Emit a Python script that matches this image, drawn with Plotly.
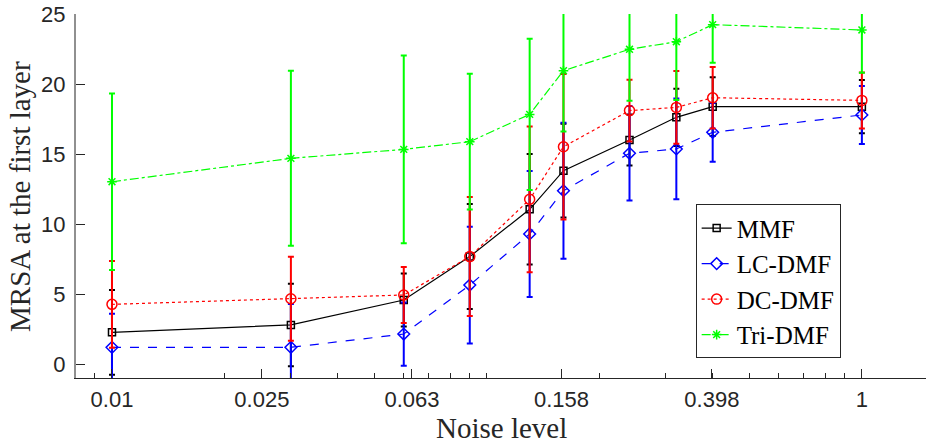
import plotly.graph_objects as go

noise = [0.01, 0.03, 0.06, 0.09, 0.13, 0.16, 0.24, 0.32, 0.40, 1.0]

mmf = [2.26, 2.79, 4.57, 7.67, 11.05, 13.81, 16.0, 17.62, 18.38, 18.38]
mmf_err = [3.03, 2.95, 1.9, 3.75, 3.95, 3.35, 1.83, 2.04, 2.1, 1.9]
lc = [1.19, 1.19, 2.14, 5.64, 9.29, 12.38, 15.05, 15.36, 16.55, 17.79]
lc_err = [2.4, 3.1, 2.26, 4.17, 4.5, 4.86, 3.38, 3.6, 2.1, 2.07]
dc = [4.26, 4.66, 4.93, 7.67, 11.76, 15.52, 18.1, 18.33, 19.02, 18.83]
dc_err = [3.1, 3.0, 2.0, 4.25, 5.2, 5.2, 2.2, 2.6, 2.2, 2.0]
tri = [13.02, 14.69, 15.33, 15.88, 17.83, 20.95, 22.48, 23.02, 24.24, 23.86]
tri_err = [6.3, 6.25, 6.7, 4.85, 5.4, 4.35, 3.67, 4.16, 2.72, 3.05]

xtick_vals = [0.01, 0.0251, 0.0631, 0.158, 0.398, 1.0]
xtick_text = ["0.01", "0.025", "0.063", "0.158", "0.398", "1"]
xminor_vals = [0.009, 0.02, 0.03, 0.04, 0.05, 0.06, 0.07, 0.08, 0.09, 0.1,
               0.2, 0.3, 0.4, 0.5, 0.6, 0.7, 0.8, 0.9]
ytick_vals = [0, 5, 10, 15, 20, 25]

series = [
    ("MMF", mmf, mmf_err, "#000000", "solid", "square-open", 7),
    ("LC-DMF", lc, lc_err, "#0000FF", "dash", "diamond-open", 9),
    ("DC-DMF", dc, dc_err, "#FF0000", "dot", "circle-open", 10),
    ("Tri-DMF", tri, tri_err, "#00FF00", "dashdot", "asterisk-open", 8),
]

fig = go.Figure()
for name, y, e, col, dash, sym, ms in series:
    fig.add_trace(go.Scatter(
        x=noise, y=y, name=name, mode="lines+markers",
        line=dict(color=col, width=1.2, dash=dash),
        marker=dict(symbol=sym, size=ms, color=col, line=dict(color=col, width=1.5)),
        error_y=dict(type="data", array=e, visible=True, color=col, thickness=2, width=3),
    ))

axis_font = dict(family="Liberation Sans, Arial, sans-serif", size=22, color="#262626")
serif = "Liberation Serif, Times New Roman, serif"

fig.update_layout(
    width=926, height=444,
    margin=dict(l=76, r=0, t=14, b=66, autoexpand=False),
    plot_bgcolor="white", paper_bgcolor="white",
    showlegend=True,
    legend=dict(
        x=0.729, y=0.477, xanchor="left", yanchor="top",
        font=dict(family=serif, size=25, color="#000000"),
        bgcolor="white", bordercolor="#262626", borderwidth=1,
        itemwidth=30, tracegroupgap=0,
    ),
    xaxis=dict(
        type="log", range=[-2.096, 0.171], automargin=False,
        tickmode="array", tickvals=xtick_vals, ticktext=xtick_text,
        ticks="inside", ticklen=9, tickwidth=1, tickcolor="#262626",
        showline=True, linecolor="#262626", linewidth=1,
        showgrid=False, zeroline=False, tickfont=axis_font,
        ticklabelstandoff=2,
        minor=dict(tickvals=xminor_vals, ticks="inside", ticklen=5,
                   tickcolor="#262626", showgrid=False),
    ),
    yaxis=dict(
        range=[-1, 25], tickmode="array", tickvals=ytick_vals, automargin=False,
        ticks="inside", ticklen=9, tickwidth=1, tickcolor="#262626",
        showline=True, linecolor="#909090", linewidth=2,
        showgrid=False, zeroline=False, tickfont=axis_font,
        ticklabelstandoff=4,
    ),
    annotations=[
        dict(text="Noise level", xref="paper", yref="paper", x=0.5, y=-0.136,
             xanchor="center", yanchor="middle", showarrow=False,
             font=dict(family=serif, size=29, color="#262626")),
        dict(text="MRSA at the first layer", xref="paper", yref="paper",
             x=-0.0659, y=0.5, xanchor="center", yanchor="middle", textangle=-90,
             showarrow=False, font=dict(family=serif, size=29, color="#262626")),
    ],
)

fig.write_html("out.html", config={"displayModeBar": False},
               post_script="document.body.style.margin='0';")
